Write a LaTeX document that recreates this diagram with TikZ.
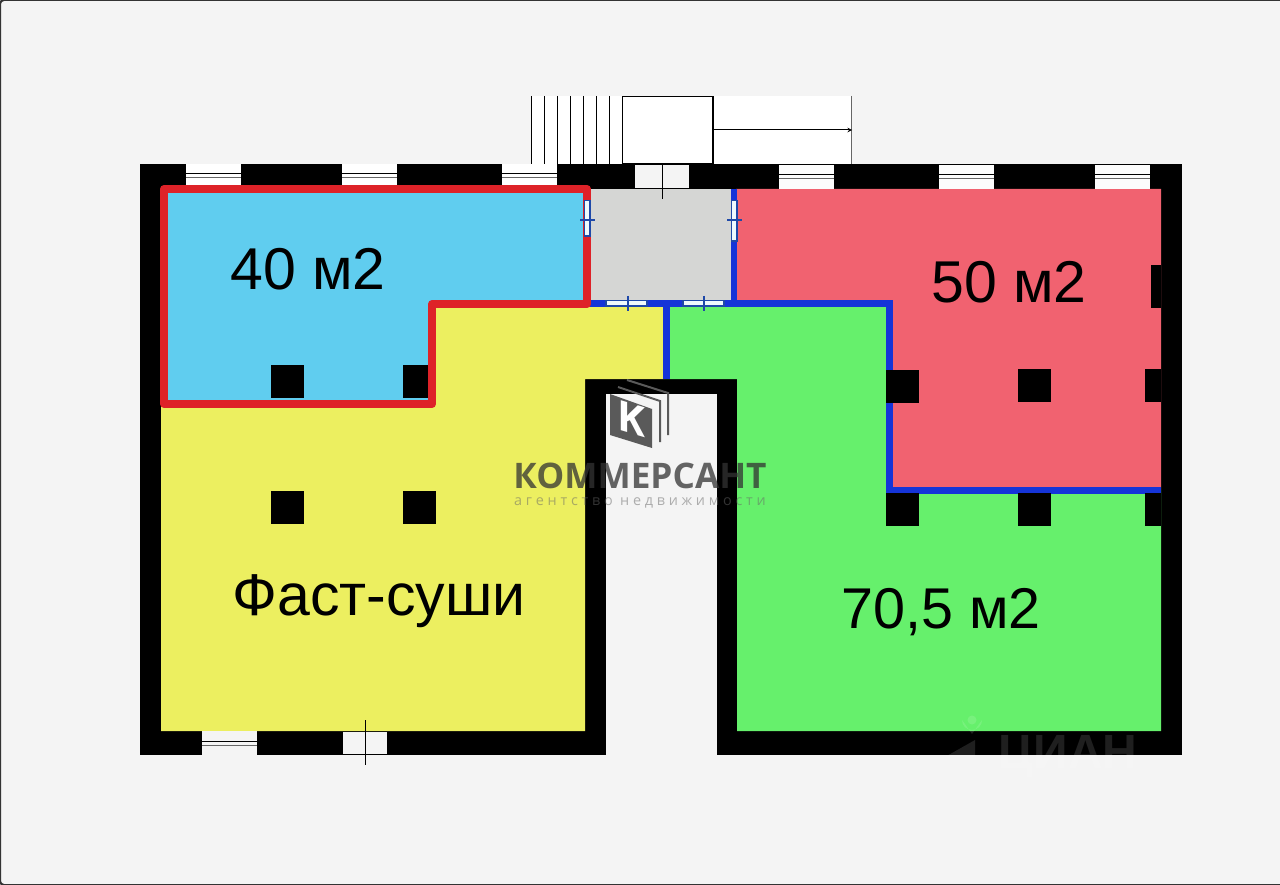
\documentclass[tikz,border=0pt]{standalone}
\usepackage{fontspec}
\setmainfont{Liberation Sans}
\newfontfamily\logofont{Open Sans}
\definecolor{paper}{HTML}{F4F4F4}
\definecolor{roomblue}{HTML}{60CDEF}
\definecolor{roomyellow}{HTML}{ECEF60}
\definecolor{roomgreen}{HTML}{66F06C}
\definecolor{roompink}{HTML}{F16270}
\definecolor{roomgrey}{HTML}{D5D6D4}
\definecolor{linered}{HTML}{DE2228}
\definecolor{lineblue}{HTML}{1534D8}
\definecolor{doorblue}{HTML}{1F49A8}
\definecolor{logogrey}{HTML}{5A5A5A}
\tikzset{
  wall/.style={fill=black,draw=none},
  redline/.style={draw=linered,line width=8pt,line join=round},
  blueline/.style={draw=lineblue,line width=6.5pt},
  area/.style={anchor=base,font=\fontsize{59}{59}\selectfont,text=black},
  slot/.style={fill=white!90!roomblue,draw=doorblue,line width=1.2pt},
  tick/.style={draw=doorblue,line width=1.2pt},
  thinline/.style={draw=black,line width=1pt}
}
\newcommand{\winH}[3]{% left end, top edge, fill of the panes
  \fill[#3] (#1,#2) rectangle ++(55,24);
  \draw[thinline] (#1,#2+10) -- ++(55,0);
  \draw[thinline,draw=black!60] (#1,#2+14) -- ++(55,0);
}
\begin{document}
\begin{tikzpicture}[x=1pt,y=-1pt]
  \useasboundingbox (0,0) rectangle (1280,885);
  \fill[paper] (0,0) rectangle (1280,885);
  \draw[black!80,line width=2pt,rounded corners=4pt] (1280,0) -- (0,0) -- (0,885) -- (1280,885);

  % stairs and porch
  \fill[white] (531,96) rectangle (851,164);
  \foreach \xs in {531,544,...,609}
    \draw[thinline] (\xs,96) -- (\xs,164);
  \draw[thinline,draw=black!60] (851,96) -- (851,164);
  \draw[black,line width=1.5pt,fill=white] (622.5,96.5) rectangle (713,163.5);
  \coordinate (porch) at (713,130);
  \coordinate (porchend) at (852,130);
  \draw[thinline,->,>=stealth] (porch) -- (porchend);

  % outer walls
  \fill[wall] (140,164) rectangle (1182,755);
  \fill[paper] (606,394) rectangle (717,756);

  % rooms
  \fill[roomgrey] (590,189) rectangle (733,302);
  \fill[roompink] (736,189) -- (1161,189) -- (1161,490) -- (890,490) -- (890,304) -- (736,304) -- cycle;
  \fill[roomgreen] (665,304) -- (890,304) -- (890,490) -- (1161,490) -- (1161,731) -- (737,731) -- (737,379) -- (665,379) -- cycle;
  \fill[roomyellow] (161,404) -- (432,404) -- (432,304) -- (665,304) -- (665,379) -- (585,379) -- (585,731) -- (161,731) -- cycle;
  \fill[roomblue] (164,189) -- (587,189) -- (587,304) -- (432,304) -- (432,404) -- (164,404) -- cycle;

  % windows
  \foreach \xs in {186,342,502}
    {\winH{\xs}{164}{white}}
  \foreach \xs in {779,939,1095}
    {\winH{\xs}{165}{white!70!paper}}
  \winH{202}{731}{paper}

  % partitions
  \draw[blueline] (734,189) -- (734,303.5) (587,303.5) -- (893,303.5) (889.5,303.5) -- (889.5,490.5) (886,490.5) -- (1161,490.5) (666.5,304) -- (666.5,379);
  \draw[redline] (164,189) -- (587,189) -- (587,304) -- (432,304) -- (432,404) -- (164,404) -- cycle;

  % pillars
  \foreach \xs/\ys/\ws in {271/365/33,403/365/25,271/491/33,403/491/33,886/370/33,1018/369/33,1145/369/16,886/493/33,1018/493/33,1145/493/16}
    \fill[wall] (\xs,\ys) rectangle ++(\ws,33);
  \fill[wall] (1151,265) rectangle (1161,308);

  % outer doors
  \fill[paper] (635,165) rectangle (689,188);
  \draw[thinline] (662,165) -- (662,199);
  \fill[paper] (343,732) rectangle (387,754);
  \draw[thinline] (365.5,720) -- (365.5,765);

  % inner doors
  \draw[slot] (584.5,200.5) rectangle (590,236);
  \draw[tick] (580,220) -- (595,220);
  \draw[slot] (731.5,200.5) rectangle (737,241);
  \draw[tick] (727,220) -- (742,220);
  \draw[slot] (606,300.5) rectangle (647,306);
  \draw[tick] (628,296) -- (628,311);
  \draw[slot] (683,300.5) rectangle (724,306);
  \draw[tick] (704,296) -- (704,311);

  % labels
  \node[area] (areablue) at (308,290) {40 м2};
  \node[area] (areapink) at (1009,303) {50 м2};
  \node[area] (areayellow) at (379,615) {Фаст-суши};
  \node[area,font=\fontsize{57.5}{57.5}\selectfont] (areagreen) at (941,628) {70,5 м2};

  % agency logo
  \fill[logogrey] (610,394) -- (652,409) -- (652,448) -- (610,435) -- cycle;
  \draw[logogrey,line width=2pt] (618,387) -- (660,401) -- (660,442);
  \draw[logogrey,line width=2pt] (627,380) -- (668,393) -- (668,435);
  \node[text=white,yslant=-.3,font=\logofont\bfseries\fontsize{42}{42}\selectfont] (logok) at (631,419) {K};
  \node[inner sep=0pt,text height=26pt,text depth=0pt,text=black!80,opacity=.75,font=\logofont\bfseries\fontsize{35.2}{35.2}\selectfont] (logoname) at (640,475) {КОММЕРСАНТ};
  \node[inner sep=0pt,text height=8pt,text depth=0pt,text=black!60,opacity=.5,font=\logofont\fontsize{14.4}{14.4}\selectfont] (logosub) at (640,501) {а г е н т с т в о\ \ н е д в и ж и м о с т и};

  % listing watermark
  \node[text=white,opacity=.12,font=\bfseries\fontsize{48}{48}\selectfont] (cianname) at (1068,757) {ЦИАН};
  \fill[white,opacity=.12,even odd rule] (972,734) -- (962,720) arc (180:0:10) -- cycle (972,720) circle (4.5);
  \fill[white,opacity=.12] (945,757) -- (975,740) -- (975,757) -- cycle;
\end{tikzpicture}
\end{document}
